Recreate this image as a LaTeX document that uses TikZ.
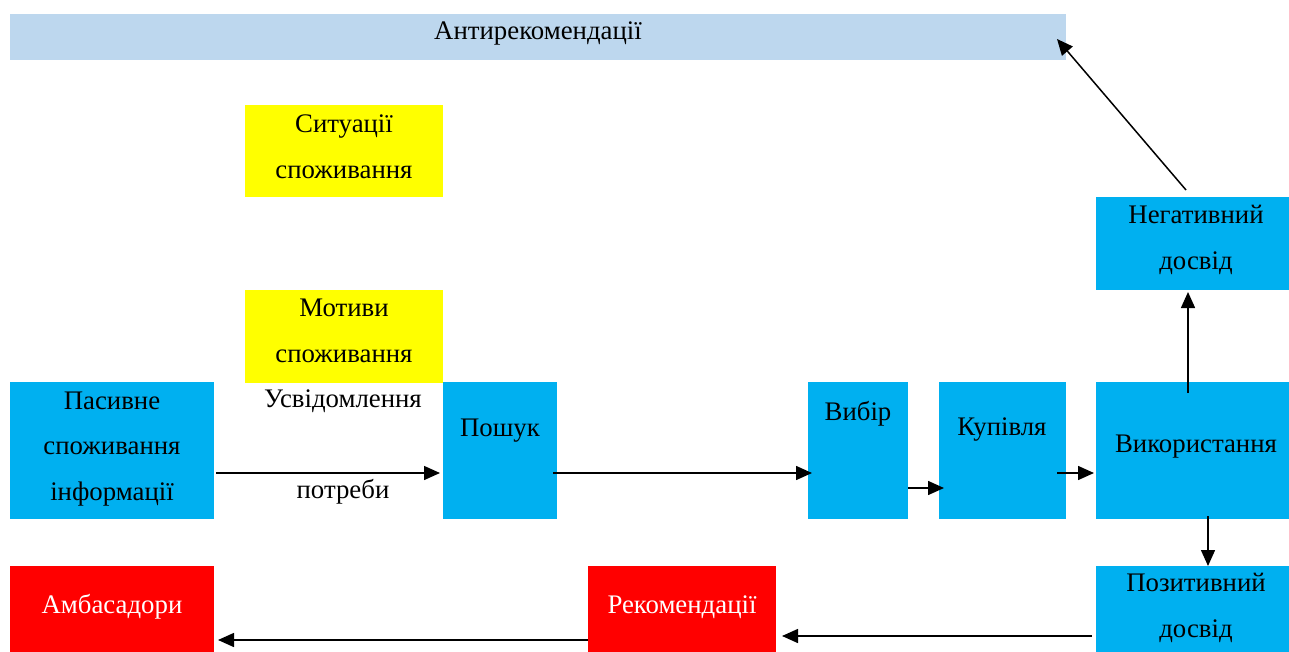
\documentclass[tikz,border=0pt]{standalone}
\usepackage{fontspec}
\setmainfont{Liberation Serif}
\usetikzlibrary{arrows.meta,fit}
\definecolor{lightblue}{HTML}{BDD7EE}
\definecolor{skyblue}{HTML}{00B0F0}
\definecolor{brightyellow}{HTML}{FFFF00}
\tikzset{
    box/.style={inner sep=0pt, outer sep=0pt},
    bluebox/.style={box, fill=skyblue},
    yellowbox/.style={box, fill=brightyellow},
    redbox/.style={box, fill=red},
    txt/.style={font=\fontsize{13.4}{22.75}\selectfont, align=center, inner sep=0pt},
    arr/.style={-{Triangle[length=8pt,width=7pt]}, line width=0.75pt},
}
\begin{document}
\begin{tikzpicture}[x=0.5pt,y=-0.5pt]
    \useasboundingbox (0,0) rectangle (1289,652);

    % Верхня смуга
    \node[box, fill=lightblue, fit={(10,14) (1066,60)}] (anti) {};
    \node[txt, anchor=base] (antitxt) at (538,40) {Антирекомендації};

    % Жовті блоки
    \node[yellowbox, fit={(245,105) (443,197)}] (sit) {};
    \node[txt] (sittxt) at (344,147) {Ситуації\\споживання};
    \node[yellowbox, fit={(245,290) (443,383)}] (mot) {};
    \node[txt] (mottxt) at (344,331) {Мотиви\\споживання};

    % Основний ланцюжок
    \node[bluebox, fit={(10,382) (214,519)}] (pas) {};
    \node[txt] (pastxt) at (112,449) {Пасивне\\споживання\\інформації};
    \node[txt, anchor=base] (usv) at (343,407) {Усвідомлення};
    \node[txt, anchor=base] (potr) at (343,498) {потреби};
    \node[bluebox, fit={(443,382) (557,519)}] (posh) {};
    \node[txt, anchor=base] (poshtxt) at (500,436) {Пошук};
    \node[bluebox, fit={(808,382) (908,519)}] (vyb) {};
    \node[txt, anchor=base] (vybtxt) at (858,420) {Вибір};
    \node[bluebox, fit={(939,382) (1066,519)}] (kup) {};
    \node[txt, anchor=base] (kuptxt) at (1002,435) {Купівля};
    \node[bluebox, fit={(1096,382) (1289,519)}] (vyk) {};
    \node[txt, anchor=base] (vyktxt) at (1196,452) {Використання};

    % Досвід
    \node[bluebox, fit={(1096,197) (1289,290)}] (neg) {};
    \node[txt] (negtxt) at (1196,240) {Негативний\\досвід};
    \node[bluebox, fit={(1096,566) (1289,652)}] (pos) {};
    \node[txt] (postxt) at (1196,608) {Позитивний\\досвід};

    % Червоні блоки
    \node[redbox, fit={(588,566) (776,652)}] (rek) {};
    \node[txt, anchor=base, text=white] (rektxt) at (682,613) {Рекомендації};
    \node[redbox, fit={(10,566) (214,652)}] (amb) {};
    \node[txt, anchor=base, text=white] (ambtxt) at (112,613) {Амбасадори};

    % Стрілки
    \draw[arr] ([xshift=1pt,yshift=-11.25pt]pas.east) -- ([xshift=-1.5pt,yshift=-11.25pt]posh.west);
    \draw[arr] ([xshift=-2pt,yshift=-11.25pt]posh.east) -- ([xshift=2pt,yshift=-11.25pt]vyb.west);
    \draw[arr] ([yshift=-18.75pt]vyb.east) -- ([xshift=2.5pt,yshift=-18.75pt]kup.west);
    \draw[arr] ([xshift=-4.5pt,yshift=-11.25pt]kup.east) -- ([xshift=-1pt,yshift=-11.25pt]vyk.west);
    \draw[arr] ([xshift=-2.25pt,yshift=-5.5pt]vyk.north) -- ([xshift=-2.25pt,yshift=-1pt]neg.south);
    \draw[arr] ([xshift=-3.25pt,yshift=3.5pt]neg.north) -- ([xshift=-4.5pt,yshift=-1pt]anti.east);
    \draw[arr] ([xshift=7.75pt,yshift=1.5pt]vyk.south) -- ([xshift=7.75pt]pos.north);
    \draw[arr] ([xshift=-2pt,yshift=-13.5pt]pos.west) -- ([xshift=3pt,yshift=-13.5pt]rek.east);
    \draw[arr] ([yshift=-15.5pt]rek.west) -- ([xshift=2pt,yshift=-15.5pt]amb.east);
\end{tikzpicture}
\end{document}
